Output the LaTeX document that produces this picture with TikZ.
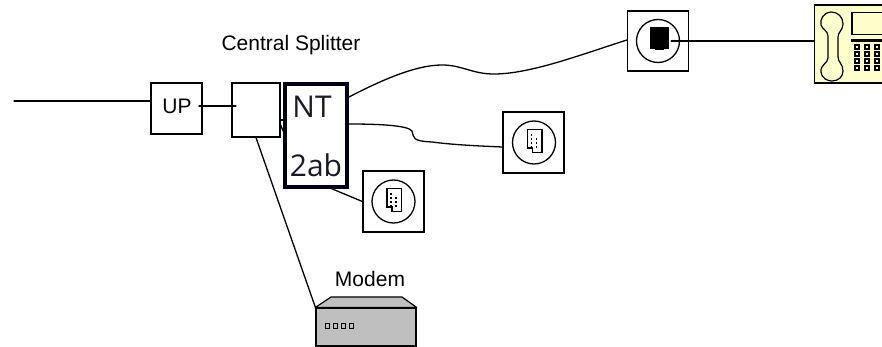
\documentclass[tikz,border=0pt]{standalone}
\usepackage{fontspec}
\setmainfont{Liberation Sans}
\newfontfamily\ntfont{Open Sans}
\definecolor{phonebg}{HTML}{FFFFCC}
\definecolor{nttext}{HTML}{1A1A24}
\begin{document}
\begin{tikzpicture}[x=1pt,y=-1pt,
  box/.style={draw,line width=1.3pt,fill=white,inner sep=0pt,minimum width=#1},
  wire/.style={line width=1.3pt,line cap=round},
  sockring/.style={draw,circle,line width=1.3pt,inner sep=0pt,minimum size=43pt},
  lbl/.style={inner sep=0pt,font=\fontsize{21}{23}\selectfont},
  ntlbl/.style={inner sep=0pt,text=nttext,font=\ntfont\fontsize{30}{32}\selectfont}]
\useasboundingbox (0,0) rectangle (882,347);
% nodes
\node[box=51pt,minimum height=51pt] (up) at (176.5,108.5) {};
\node[inner sep=0pt,font=\fontsize{21}{23}\selectfont] (upt) at (177,106) {UP};
\node[box=48pt,minimum height=54pt] (split) at (256,110) {};
\node[draw=black!90!blue,line width=3.8pt,fill=white,inner sep=0pt,minimum width=62pt,minimum height=103pt] (nt) at (316,135.5) {};
\node[ntlbl] (ntt) at (312,107) {NT};
\node[ntlbl] (ntb) at (316,165) {2ab};
\node[lbl] (cs) at (291,45) {Central Splitter};
\node[lbl] (mt) at (370,279) {Modem};
% sockets
\node[box=61pt,minimum height=60pt] (s1) at (658,41) {};
\node[sockring] (r1) at (658,41) {};
\node[fill=black,inner sep=0pt,minimum width=19pt,minimum height=22pt] (plug) at (659.5,38) {};
\fill (655,48) rectangle (664,50.5);
\node[box=61pt,minimum height=61pt] (s2) at (533.5,142.5) {};
\node[sockring] (r2) at (534,142.5) {};
\node[box=61pt,minimum height=61pt] (s3) at (393.5,201.5) {};
\node[sockring] (r3) at (393.5,201.5) {};
% socket inserts
\foreach \c in {r2,r3}{
  \begin{scope}[shift={(\c.center)}]
  \draw[line width=1.2pt,fill=white] (-6.5,-13) -- (8,-13) -- (8,10) -- (-1.5,10) -- (-1.5,5.5) -- (-6.5,5.5) -- cycle;
  \foreach \yy in {-8,-4,0,4}{\fill (-3.5,\yy) rectangle (-2,\yy+2);}
  \foreach \yy in {-4,0,4}{\fill (1.5,\yy) rectangle (3,\yy+2);}
  \end{scope}}
% modem
\node[draw,line width=1.2pt,fill=black!25,inner sep=0pt,minimum width=100pt,minimum height=38pt] (modem) at (366,327) {};
\filldraw[line width=1.2pt,fill=black!25,line join=round] (modem.north west) -- (331,297) -- (402,297) -- (modem.north east) -- cycle;
\foreach \xx in {327,335,343,351}{\draw[line width=.8pt] (\xx-2,323.5) rectangle (\xx+2,328.5);}
% phone
\node[draw,line width=1.3pt,fill=phonebg,inner sep=0pt,minimum width=68pt,minimum height=78pt] (phone) at (848.5,44) {};
\draw[line width=1.2pt,line join=round,fill=phonebg] (831,12) .. controls (823,13) and (820,19) .. (821,25) .. controls (822,29) and (828,31) .. (828,36) -- (828,58) .. controls (828,63) and (820,65) .. (821,72) .. controls (822,79) and (828,81) .. (832,81) .. controls (838,81) and (843,77) .. (843,71) .. controls (843,64) and (838,62) .. (838,57) -- (838,37) .. controls (838,32) and (843,30) .. (843,24) .. controls (843,17) and (838,12) .. (831,12) -- cycle;
\draw[line width=1.3pt] (852,12.5) rectangle (883,34.5);
\fill (851,39) rectangle (882,42);
\foreach \xx in {857,867,877}\foreach \yy in {47,54,61,68}{\draw[line width=1.4pt] (\xx-2,\yy-2) rectangle (\xx+2,\yy+2);}
% connectors
\coordinate (inl) at (14,101);
\coordinate (upo) at (199,106);
\coordinate (spi) at (236,106);
\coordinate (nts3) at (330,188);
\draw[wire] (inl) -- (up.west |- inl);
\draw[wire] (upo) -- (spi);
\draw[wire] (split.south) -- (modem.north west);
\draw[wire] (split.east |- 0,120) -- (nt.west |- 0,120);
\draw[wire] (split.east |- 0,125) -- (nt.west |- 0,131);
\draw[wire] (nt.east |- 0,97) .. controls (380,81) and (415,65) .. (442,65) .. controls (462,65) and (472,74) .. (494,74) .. controls (530,74) and (580,55) .. (s1.west |- 0,40);
\draw[wire] (nt.east |- 0,124) .. controls (375,124) and (408,125) .. (412,131) .. controls (414,138) and (412,141) .. (432,142) .. controls (455,145) and (480,146) .. (s2.west |- 0,147);
\draw[wire] (nts3) -- (s3.west);
\draw[wire] (plug.east |- r1.center) ++(2,0) -- (phone.west |- r1.center);
\end{tikzpicture}
\end{document}
